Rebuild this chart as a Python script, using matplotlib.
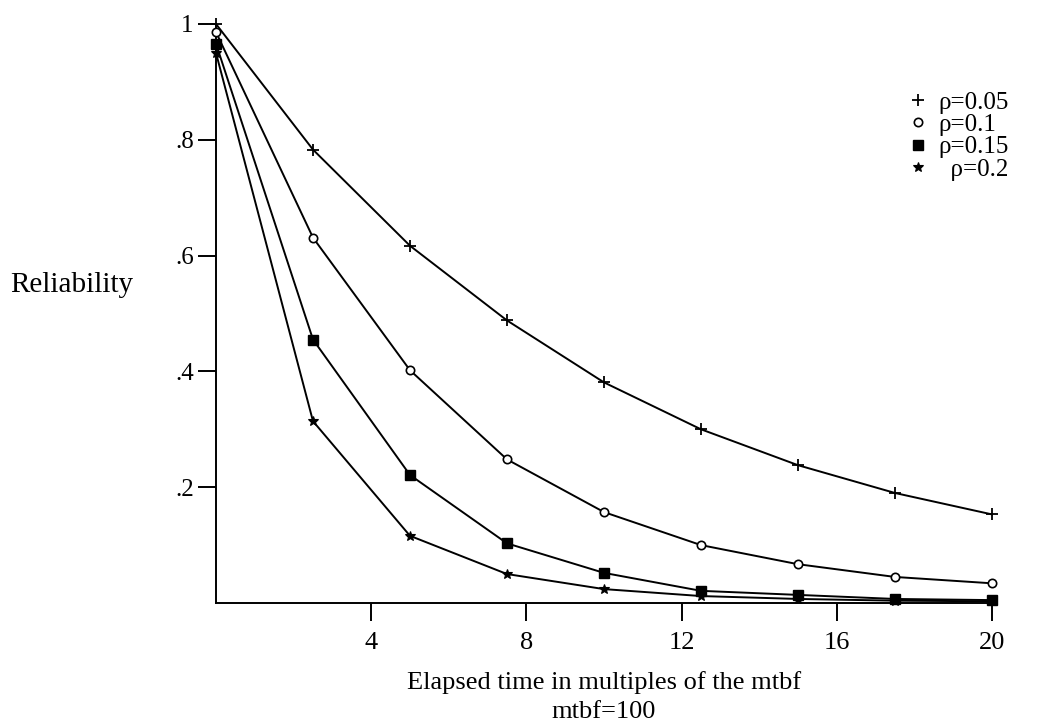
import matplotlib
matplotlib.use("Agg")
import matplotlib.pyplot as plt

plt.rcParams['font.family'] = ['Liberation Serif', 'DejaVu Serif']

# elapsed time in multiples of the mtbf
t = [0, 2.5, 5, 7.5, 10, 12.5, 15, 17.5, 20]

rel_005 = [1.000, 0.783, 0.617, 0.488, 0.381, 0.300, 0.238, 0.190, 0.153]
rel_010 = [0.986, 0.631, 0.402, 0.248, 0.157, 0.100, 0.067, 0.045, 0.034]
rel_015 = [0.966, 0.455, 0.221, 0.103, 0.052, 0.021, 0.014, 0.007, 0.005]
rel_020 = [0.950, 0.314, 0.116, 0.050, 0.024, 0.012, 0.007, 0.004, 0.003]

series_labels = ['ρ=0.05', 'ρ=0.1', 'ρ=0.15', '  ρ=0.2']
x_ticks = [4, 8, 12, 16, 20]
y_ticks = [0.2, 0.4, 0.6, 0.8, 1.0]
y_tick_labels = ['.2', '.4', '.6', '.8', '1']

fig = plt.figure(figsize=(10.42, 7.23), dpi=100)
ax = fig.add_axes([216 / 1042, 1 - 603 / 723, 776 / 1042, 579 / 723])

styles = [
    dict(marker='+', markersize=9, markeredgewidth=1.3, markerfacecolor='none'),
    dict(marker='o', markersize=6, markeredgewidth=1.2, markerfacecolor='white'),
    dict(marker='s', markersize=7, markeredgewidth=1.0, markerfacecolor='black'),
    dict(marker='*', markersize=7, markeredgewidth=0.8, markerfacecolor='black'),
]
handles = []
for ys, st, lab in zip([rel_005, rel_010, rel_015, rel_020], styles, series_labels):
    ln, = ax.plot(t, ys, color='black', lw=1.4, markeredgecolor='black',
                  clip_on=False, label=lab, zorder=3, **st)
    handles.append(ln)

ax.set_xlim(0, 20)
ax.set_ylim(0, 1)
for side in ('top', 'right'):
    ax.spines[side].set_visible(False)
for side in ('left', 'bottom'):
    ax.spines[side].set_linewidth(1.4)

ax.set_xticks(x_ticks)
ax.set_xticklabels([str(v) for v in x_ticks])
ax.set_yticks(y_ticks)
ax.set_yticklabels(y_tick_labels)
ax.tick_params(axis='both', direction='out', length=13, width=1.4, pad=3)
ax.tick_params(axis='x', labelsize=19, pad=8)
ax.tick_params(axis='y', labelsize=18)

ax.set_xlabel('Elapsed time in multiples of the mtbf\nmtbf=100', fontsize=19,
              linespacing=1.4, labelpad=12)
fig.text(10 / 1042, 1 - 285 / 723, 'Reliability', fontsize=21,
         ha='left', va='center')

leg = fig.legend(handles=handles, loc='upper left',
                 bbox_to_anchor=(918 / 1042, 1 - 91 / 723),
                 frameon=False, handlelength=0.0, handletextpad=0.8,
                 labelspacing=0.0, fontsize=18, numpoints=1,
                 borderaxespad=0, borderpad=0)
for h in leg.legend_handles:
    h.set_linestyle('none')

fig.savefig('out.png', dpi=100, facecolor='white')
